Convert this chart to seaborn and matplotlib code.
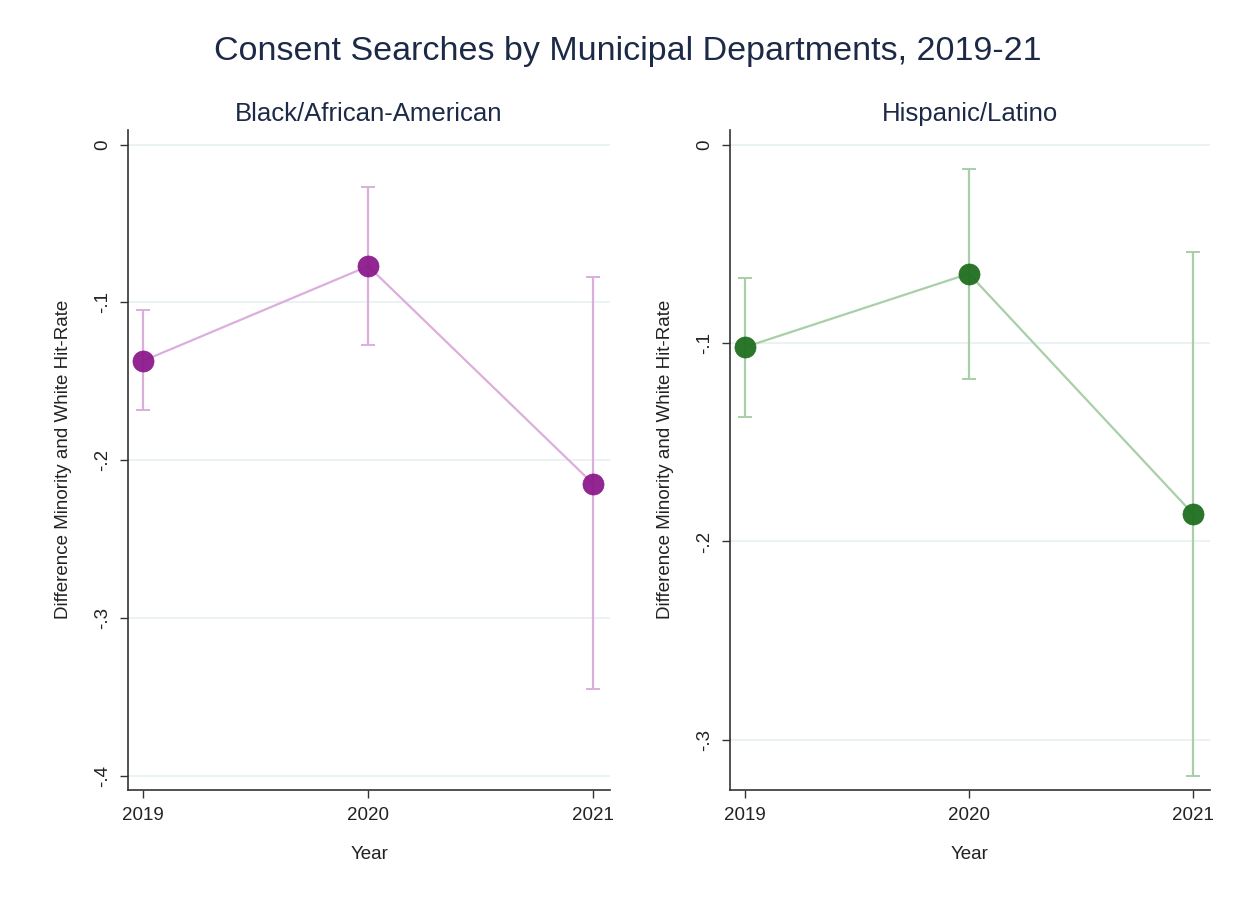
import matplotlib.pyplot as plt
import pandas as pd
import seaborn as sns

years = [2019, 2020, 2021]

black_est = [-0.137, -0.077, -0.215]
black_lo = [-0.168, -0.127, -0.345]
black_hi = [-0.105, -0.027, -0.084]

hisp_est = [-0.102, -0.065, -0.186]
hisp_lo = [-0.137, -0.118, -0.318]
hisp_hi = [-0.067, -0.012, -0.054]

black_ticks = [0, -0.1, -0.2, -0.3, -0.4]
black_ticklabels = ["0", "-.1", "-.2", "-.3", "-.4"]
hisp_ticks = [0, -0.1, -0.2, -0.3]
hisp_ticklabels = ["0", "-.1", "-.2", "-.3"]

sns.set_theme(style="white")
plt.rcParams["font.family"] = ["Liberation Sans", "DejaVu Sans"]

navy = "#1c2a48"
ink = "#222222"


def draw_panel(ax, est, lo, hi, dark, light, title, ylim, ticks, ticklabels):
    df = pd.DataFrame({"year": years, "est": est, "lo": lo, "hi": hi})
    for y in ticks:
        ax.axhline(y, color="#e6f0f1", lw=1.2, zorder=0)
    ax.errorbar(df["year"], df["est"],
                yerr=[df["est"] - df["lo"], df["hi"] - df["est"]],
                fmt="none", ecolor=light, elinewidth=1.6, capsize=5, capthick=1.4, zorder=2)
    sns.lineplot(data=df, x="year", y="est", color=light, lw=1.6, ax=ax, zorder=3)
    sns.scatterplot(data=df, x="year", y="est", color=dark, s=230, edgecolor=dark,
                    linewidth=0.5, alpha=0.95, ax=ax, zorder=4)
    ax.set_xlim(2019 - 0.067, 2021 + 0.075)
    ax.set_ylim(*ylim)
    ax.set_xticks(years)
    ax.set_xticklabels([str(y) for y in years], fontsize=13.5)
    ax.set_yticks(ticks)
    ax.set_yticklabels(ticklabels, fontsize=13.5, rotation=90, va="center")
    ax.tick_params(axis="both", length=6, width=1, color="#333333", direction="out",
                   left=True, bottom=True, labelcolor=ink, pad=6)
    ax.set_xlabel("Year", fontsize=13.5, color=ink, labelpad=16)
    ax.set_ylabel("Difference Minority and White Hit-Rate", fontsize=13.5, color=ink, labelpad=16)
    ax.set_title(title, fontsize=18.5, color=navy, pad=6)
    for side in ["top", "right"]:
        ax.spines[side].set_visible(False)
    for side in ["left", "bottom"]:
        ax.spines[side].set_color("#333333")
        ax.spines[side].set_linewidth(1.2)


fig = plt.figure(figsize=(12.49, 9.07), dpi=100)
ax1 = fig.add_axes([0.1025, 0.129, 0.386, 0.728])
ax2 = fig.add_axes([0.5845, 0.129, 0.384, 0.728])

draw_panel(ax1, black_est, black_lo, black_hi, "#8c1a8c", "#dcaedc",
           "Black/African-American", (-0.409, 0.0095), black_ticks, black_ticklabels)
draw_panel(ax2, hisp_est, hisp_lo, hisp_hi, "#1f6f1f", "#a8cfa8",
           "Hispanic/Latino", (-0.3253, 0.0076), hisp_ticks, hisp_ticklabels)

fig.suptitle("Consent Searches by Municipal Departments, 2019-21", fontsize=24.5,
             color=navy, x=0.503, y=0.96)

fig.savefig("out.png", dpi=100, facecolor="white")
